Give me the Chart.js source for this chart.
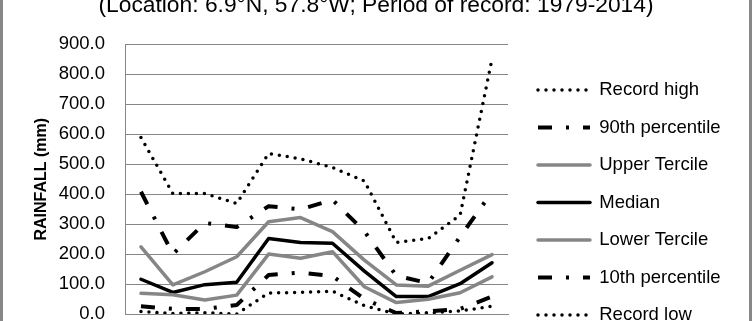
<!DOCTYPE html>
<html><head><meta charset="utf-8">
<script src="https://cdn.jsdelivr.net/npm/chart.js@4.4.1/dist/chart.umd.min.js"></script>
<style>
html,body{margin:0;padding:0;background:#fff;}
#wrap{position:relative;width:752px;height:321px;overflow:hidden;background:#fff;}
#cv{position:absolute;left:0;top:-20px;width:752px;height:445px;}
.bar{position:absolute;top:0;width:3px;height:321px;background:#878787;}
</style></head><body>
<div id="wrap"><canvas id="cv" width="752" height="445"></canvas>
<div class="bar" style="left:0"></div><div class="bar" style="right:0"></div></div>
<script>
const months = ['Jan','Feb','Mar','Apr','May','Jun','Jul','Aug','Sep','Oct','Nov','Dec'];
const seriesNames = ['Record high','90th percentile','Upper Tercile','Median','Lower Tercile','10th percentile','Record low'];
const recordHigh = [589, 402, 402, 369, 536, 518, 489, 444, 239, 252, 330, 852];
const pct90      = [408, 200, 304, 290, 360, 349, 381, 276, 128, 103, 258, 407];
const upperTerc  = [224,  97, 141, 191, 308, 322, 275, 180,  97,  93, 146, 198];
const median     = [116,  72,  98, 106, 252, 239, 236, 143,  58,  58, 101, 171];
const lowerTerc  = [ 69,  64,  47,  63, 200, 186, 208,  91,  38,  49,  71, 124];
const pct10      = [ 26,  17,  17,  30, 130, 138, 127,  50,   3,   9,  17,  58];
const recordLow  = [  8,   2,   4,   0,  70,  72,  76,  28,   0,   4,  10,  26];
const yTicks = [0,100,200,300,400,500,600,700,800,900];
const titleText = '(Location: 6.9\u00B0N, 57.8\u00B0W; Period of record: 1979-2014)';
const yTitle = 'RAINFALL (mm)';

const FAM = "'Liberation Sans', Arial, sans-serif";
const GRAY = '#868686';
const dotted = {borderDash:[0, 8], borderCapStyle:'round', borderWidth:3.5};
const dashDot = {borderDash:[14, 14, 3, 14], borderCapStyle:'butt', borderWidth:4};
const styles = [
  Object.assign({borderColor:'#000'}, dotted),
  Object.assign({borderColor:'#000'}, dashDot),
  {borderColor:GRAY, borderWidth:3.5, borderCapStyle:'round', borderDash:[]},
  {borderColor:'#000', borderWidth:3.5, borderCapStyle:'round', borderDash:[]},
  {borderColor:GRAY, borderWidth:3.5, borderCapStyle:'round', borderDash:[]},
  Object.assign({borderColor:'#000'}, dashDot),
  Object.assign({borderColor:'#000'}, dotted)
];
const values = [recordHigh, pct90, upperTerc, median, lowerTerc, pct10, recordLow];

// legend geometry
const legFs = 18.5, legPad = 19, legBox = 52;
const mctx = document.createElement('canvas').getContext('2d');
mctx.font = legFs + 'px ' + FAM;
const maxText = Math.max(...seriesNames.map(n => mctx.measureText(n).width));
const legendW = legPad + legBox + legFs/2 + maxText + 10;
const lineStart = 538, plotRight = 508, plotLeft = 125;
const padR = 752 - legendW + legPad - lineStart;
const dummyW = lineStart - legPad - plotRight;

const datasets = seriesNames.map((n, i) => Object.assign({
  label: n,
  data: values[i],
  fill: false,
  tension: 0,
  pointRadius: 0,
  pointHoverRadius: 0,
  pointBorderWidth: 0,
  order: values.length - 1 - i,
  borderJoinStyle: 'round'
}, styles[i]));

const baseGen = Chart.defaults.plugins.legend.labels.generateLabels;

new Chart(document.getElementById('cv'), {
  type: 'line',
  data: {labels: months, datasets},
  options: {
    responsive: false,
    animation: false,
    layout: {padding: {left: padR, right: padR, top: 0, bottom: 0}},
    plugins: {
      tooltip: {enabled: false},
      title: {display: true, text: titleText, color: '#000',
        font: {family: FAM, size: 22.8, weight: 'normal', lineHeight: 1.2},
        padding: {top: 12, bottom: 25}},
      legend: {position: 'right', align: 'center', fullSize: true, maxWidth: legendW + 2,
        labels: {usePointStyle: true, pointStyle: 'line', pointStyleWidth: legBox,
          color: '#000', padding: legPad, font: {family: FAM, size: legFs},
          generateLabels: chart => baseGen(chart).map(it => {
            const ds = chart.data.datasets[it.datasetIndex];
            it.lineDash = ds.borderDash;
            it.lineCap = ds.borderCapStyle;
            it.lineWidth = ds.borderWidth;
            it.strokeStyle = ds.borderColor;
            it.pointStyle = 'line';
            return it;
          }),
          sort: (a, b) => a.datasetIndex - b.datasetIndex}}
    },
    scales: {
      x: {
        offset: true,
        grid: {display: false},
        border: {display: true, color: GRAY, width: 1},
        ticks: {color: '#000', font: {family: FAM, size: 18.5}},
        afterFit: s => { s.height = 111; }
      },
      y: {
        min: 0, max: 900,
        afterBuildTicks: s => { s.ticks = yTicks.map(v => ({value: v})); },
        grid: {color: GRAY, lineWidth: 1, drawTicks: false},
        border: {display: true, color: GRAY, width: 1},
        ticks: {color: '#000', padding: 20, font: {family: FAM, size: 18.5},
          callback: v => Number(v).toFixed(1)},
        title: {display: true, text: yTitle, color: '#000',
          font: {family: FAM, size: 16, weight: 'bold', lineHeight: 1.2},
          padding: {top: 32 - padR, bottom: 0}},
        afterFit: s => { s.width = plotLeft - padR; }
      },
      yR: {
        type: 'linear', position: 'right', display: true,
        grid: {display: false}, border: {display: false},
        ticks: {display: false},
        afterFit: s => { s.width = dummyW; }
      }
    }
  }
});
</script>
</body></html>
